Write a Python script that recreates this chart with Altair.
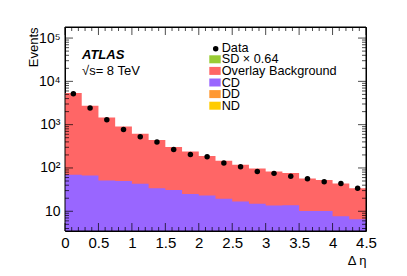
import altair as alt
import pandas as pd

# ---- data ----
bin_lo = [0.0, 0.25, 0.5, 0.75, 1.0, 1.25, 1.5, 1.75, 2.0, 2.25, 2.5, 2.75, 3.0, 3.25, 3.5, 3.75, 4.0, 4.25]
bin_hi_last = 4.5
overlay_bkg = [5370, 2735, 1466, 908, 616, 441, 304, 240, 188, 147, 119, 97, 83, 76, 57, 53, 44, 34]
cd_vals = [70, 67, 51, 50, 43, 34, 31, 25, 23, 19.5, 16.8, 14.9, 13.6, 13.8, 10.1, 10.1, 7.7, 6.5]
data_vals = [5200, 2420, 1300, 775, 525, 396, 267, 205, 181, 130, 107, 83, 75, 64, 56, 48, 44, 34]

legend_names = ["SD \u00d7 0.64", "Overlay Background", "CD", "DD", "ND"]
legend_colors = ["#99cc33", "#ff6666", "#9966ff", "#ff9933", "#ffcc00"]

x_major = [0, 0.5, 1, 1.5, 2, 2.5, 3, 3.5, 4, 4.5]
x_minor = [round(i * 0.1, 1) for i in range(46) if i % 5 != 0]
y_major = [10, 100, 1000, 10000, 100000]
y_minor = [m * 10 ** e for e in range(0, 5) for m in range(2, 10)]

Y_MIN, Y_MAX = 3.5, 1.8e5
W, H = 301, 204
FONT = "Liberation Sans"

y_minor = [float(v) for v in y_minor if Y_MIN < v < Y_MAX]

edges = bin_lo + [bin_hi_last]
hist_bkg = pd.DataFrame({"x": edges, "v": overlay_bkg + [overlay_bkg[-1]]})
hist_cd = pd.DataFrame({"x": edges, "v": cd_vals + [cd_vals[-1]]})
pts = pd.DataFrame({"x": [b + 0.125 for b in bin_lo], "y": data_vals})

xscale = alt.Scale(domain=[0, 4.5], nice=False, zero=False)
yscale = alt.Scale(type="log", domain=[Y_MIN, Y_MAX], nice=False)

xaxis = alt.Axis(values=x_major, format=".1~f", ticks=False, tickSize=0, domain=False, grid=False,
                 labelFont=FONT, labelFontSize=15, labelPadding=4, labelFlush=False, labelColor="black",
                 title="\u0394 \u03b7", titleFont=FONT, titleFontSize=13, titleFontWeight="normal",
                 titleX=W, titleY=29, titleAlign="right", titleBaseline="middle", titleColor="black")
yaxis = alt.Axis(values=y_major, ticks=False, tickSize=0, domain=False, grid=False,
                 labelExpr="datum.value == 10 ? '10' : datum.value == 100 ? '10\u00b2' : datum.value == 1000 ? '10\u00b3' : datum.value == 10000 ? '10\u2074' : '10\u2075'",
                 labelFont=FONT, labelFontSize=14, labelPadding=5, labelFlush=False, labelColor="black",
                 title="Events", titleFont=FONT, titleFontSize=13, titleFontWeight="normal",
                 titleAngle=270, titleX=-32, titleY=0, titleAlign="right", titleBaseline="middle",
                 titleColor="black")


def hist_layer(df, colour):
    return alt.Chart(df).mark_area(interpolate="step-after", opacity=1, color=colour).encode(
        x=alt.X("x:Q", scale=xscale, axis=xaxis),
        y=alt.Y("v:Q", scale=yscale, axis=yaxis, stack=None),
        y2=alt.datum(Y_MIN),
    )

bkg = hist_layer(hist_bkg, legend_colors[1])
cd = hist_layer(hist_cd, legend_colors[2])

points = alt.Chart(pts).mark_point(filled=True, size=30, opacity=1, color="black").encode(
    x=alt.X("x:Q", scale=xscale, axis=xaxis),
    y=alt.Y("y:Q", scale=yscale, axis=yaxis),
)

def yticks(vals, length):
    df = pd.DataFrame({"v": vals})
    left = alt.Chart(df).mark_tick(color="black", thickness=1, size=length, orient="horizontal").encode(
        y=alt.Y("v:Q", scale=yscale, axis=yaxis), x=alt.value(length / 2))
    right = alt.Chart(df).mark_tick(color="black", thickness=1, size=length, orient="horizontal").encode(
        y=alt.Y("v:Q", scale=yscale, axis=yaxis), x=alt.value(W - length / 2))
    return [left, right]

def xticks(vals, length):
    df = pd.DataFrame({"v": vals})
    bottom = alt.Chart(df).mark_tick(color="black", thickness=1, size=length, orient="vertical").encode(
        x=alt.X("v:Q", scale=xscale, axis=xaxis), y=alt.value(H - length / 2))
    top = alt.Chart(df).mark_tick(color="black", thickness=1, size=length, orient="vertical").encode(
        x=alt.X("v:Q", scale=xscale, axis=xaxis), y=alt.value(length / 2))
    return [bottom, top]

frame = alt.Chart(pd.DataFrame({"f": [0]})).mark_rect(fill=None, stroke="black", strokeWidth=1).encode(
    x=alt.value(0), x2=alt.value(W), y=alt.value(0), y2=alt.value(H))

# ---- legend (drawn manually, one row per entry) ----
LEG_X, LEG_Y0, LEG_DY = 144.3, 20.7, 11.6
LEG_FS = 12.7
one = pd.DataFrame({"f": [0]})
legend_layers = [
    alt.Chart(one).mark_point(filled=True, size=30, opacity=1, color="black").encode(
        x=alt.value(LEG_X + 6.4), y=alt.value(LEG_Y0 + 1)),
    alt.Chart(pd.DataFrame({"t": ["Data"]})).mark_text(
        align="left", baseline="middle", font=FONT, fontSize=LEG_FS, color="black").encode(
        text="t:N", x=alt.value(LEG_X + 12.4), y=alt.value(LEG_Y0)),
]
for i, (name, colour) in enumerate(zip(legend_names, legend_colors)):
    yc = LEG_Y0 + (i + 1) * LEG_DY
    legend_layers.append(alt.Chart(one).mark_rect(color=colour).encode(
        x=alt.value(LEG_X), x2=alt.value(LEG_X + 11.4), y=alt.value(yc - 4), y2=alt.value(yc + 4)))
    legend_layers.append(alt.Chart(pd.DataFrame({"t": [name]})).mark_text(
        align="left", baseline="middle", font=FONT, fontSize=LEG_FS, color="black").encode(
        text="t:N", x=alt.value(LEG_X + 12.4), y=alt.value(yc)))

atlas = alt.Chart(pd.DataFrame({"t": ["ATLAS"]})).mark_text(
    align="left", baseline="alphabetic", font=FONT, fontSize=13, fontStyle="italic",
    fontWeight="bold", color="black").encode(text="t:N", x=alt.value(17), y=alt.value(32))
energy = alt.Chart(pd.DataFrame({"t": ["\u221as= 8 TeV"]})).mark_text(
    align="left", baseline="alphabetic", font=FONT, fontSize=13, color="black").encode(
    text="t:N", x=alt.value(17), y=alt.value(47.5))

layers = ([bkg, cd, points] + yticks(y_major, 8) + yticks(y_minor, 4) + xticks(x_major, 8)
          + xticks(x_minor, 4) + [frame, atlas, energy] + legend_layers)

chart = alt.layer(*layers).properties(
    width=W, height=H,
    autosize=alt.AutoSizeParams(type="none"),
    padding={"left": 57, "top": 19, "right": 25, "bottom": 37},
    background="white",
).configure_view(stroke="black", strokeWidth=1)

chart.save("out.html", embed_options={"renderer": "svg", "actions": False})
